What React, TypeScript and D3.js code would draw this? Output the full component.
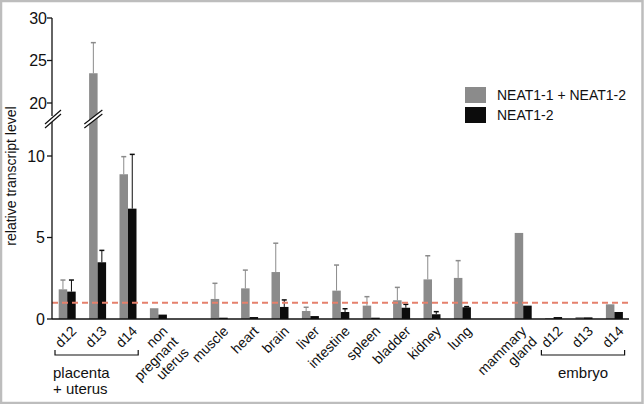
import * as d3 from "d3";

// slot order along the x axis; empty slots are the gaps between groups
const labels: string[][] = [
  ["d12"], ["d13"], ["d14"], ["non", "pregnant", "uterus"], [],
  ["muscle"], ["heart"], ["brain"], ["liver"], ["intestine"], ["spleen"],
  ["bladder"], ["kidney"], ["lung"], [], ["mammary", "gland"],
  ["d12"], ["d13"], ["d14"],
];

// NEAT1-1 + NEAT1-2 (grey)
const totalLevel = [1.82, 23.5, 8.88, 0.66, null, 1.23, 1.88, 2.88, 0.49, 1.74, 0.82, 1.15, 2.43, 2.52, null, 5.28, 0.06, 0.12, 0.9];
const totalErr = [2.39, 27.1, 9.96, null, null, 2.19, 3.0, 4.65, 0.72, 3.31, 1.37, 1.94, 3.88, 3.58, null, null, null, null, null];
// NEAT1-2 (black)
const neat2Level = [1.68, 3.48, 6.77, 0.27, null, 0.08, 0.12, 0.74, 0.18, 0.43, 0.08, 0.69, 0.29, 0.72, null, 0.82, 0.12, 0.1, 0.43];
const neat2Err = [2.39, 4.21, 10.1, null, null, null, null, 1.17, null, 0.63, null, 0.9, 0.45, 0.76, null, null, null, null, null];

const lowTicks = [0, 5, 10];
const highTicks = [20, 25, 30];
const seriesNames = ["NEAT1-1 + NEAT1-2", "NEAT1-2"];
const groups = [
  { name: ["placenta", "+ uterus"], from: 0, to: 2, align: "start" },
  { name: ["embryo"], from: 16, to: 18, align: "middle" },
];

const GREY = "#8b8b8b";
const BLACK = "#0c0c0c";
const FONT = "'Liberation Sans', Arial, sans-serif";

export default function App() {
  const W = 644, H = 404;
  const axisX = 52;
  const BRK = 15; // values above this use the upper scale

  const x = d3.scaleBand<number>()
    .domain(d3.range(labels.length))
    .range([axisX, 629.6])
    .paddingInner(0)
    .paddingOuter(0);
  const sub = d3.scaleBand<number>().domain([0, 1]).range([0, 17]).padding(0);
  const half = (x.bandwidth() - 17) / 2;

  const yLo = d3.scaleLinear().domain([0, 10]).range([319, 156]);
  const yHi = d3.scaleLinear().domain([20, 30]).range([103, 18]);
  const y = (v: number) => (v <= BRK ? yLo(v) : yHi(v));

  const brkY = 119; // centre of break marks
  const slash = (cx: number, off: number, w: number) =>
    `M${cx - w},${brkY + off + 7}L${cx + w},${brkY + off - 7}`;

  const series = [
    { vals: totalLevel, errs: totalErr, color: GREY },
    { vals: neat2Level, errs: neat2Err, color: BLACK },
  ];

  return (
    <svg width={W} height={H} style={{ display: "block", fontFamily: FONT }}>
      <style>{"body{margin:0}"}</style>
      <rect x={0} y={0} width={W} height={H} fill="#fff" />

      {/* bars */}
      {series.map((s, si) =>
        s.vals.map((v, i) =>
          v == null ? null : (
            <rect
              key={`b${si}-${i}`}
              x={(x(i) as number) + half + (sub(si) as number)}
              y={y(v)}
              width={sub.bandwidth()}
              height={yLo(0) - y(v)}
              fill={s.color}
            />
          )
        )
      )}

      {/* error bars (upper whisker only) */}
      {series.map((s, si) =>
        s.errs.map((e, i) => {
          const v = s.vals[i];
          if (e == null || v == null) return null;
          const cx = (x(i) as number) + half + (sub(si) as number) + sub.bandwidth() / 2;
          return (
            <g key={`e${si}-${i}`} stroke={s.color} strokeWidth={1}>
              <line x1={cx} x2={cx} y1={y(v)} y2={y(e)} />
              <line x1={cx - 2.5} x2={cx + 2.5} y1={y(e)} y2={y(e)} strokeWidth={1.5} />
            </g>
          );
        })
      )}

      {/* break on the tall bar */}
      {(() => {
        const i = totalLevel.findIndex((v) => v != null && v > BRK);
        const cx = (x(i) as number) + half + sub.bandwidth() / 2;
        return (
          <g>
            <path
              d={`M${cx - 9},${brkY + 7 - 2}L${cx + 9},${brkY - 7 - 2}L${cx + 9},${brkY - 7 + 2}L${cx - 9},${brkY + 7 + 2}Z`}
              fill="#fff"
            />
            <path d={slash(cx, -2, 9) + slash(cx, 2, 9)} stroke="#111" strokeWidth={1.2} fill="none" />
          </g>
        );
      })()}

      {/* reference line at 1 */}
      <line
        x1={axisX}
        x2={629}
        y1={yLo(1)}
        y2={yLo(1)}
        stroke="#e5806c"
        strokeWidth={2}
        strokeDasharray="6,4"
      />

      {/* y axis */}
      <g stroke="#111" strokeWidth={1.3} fill="none">
        <line x1={axisX} x2={axisX} y1={yLo(0)} y2={brkY + 3} />
        <line x1={axisX} x2={axisX} y1={yHi(30)} y2={brkY - 3} />
        <path d={slash(axisX + 1, -2, 8) + slash(axisX + 1, 2, 8)} strokeWidth={1.2} />
        {lowTicks.map((t) => (
          <line key={`tl${t}`} x1={axisX - 5} x2={axisX} y1={yLo(t)} y2={yLo(t)} />
        ))}
        {highTicks.map((t) => (
          <line key={`th${t}`} x1={axisX - 5} x2={axisX} y1={yHi(t)} y2={yHi(t)} />
        ))}
        <line x1={axisX} x2={629} y1={yLo(0)} y2={yLo(0)} />
      </g>
      <g fontSize={16} textAnchor="end" fill="#111">
        {lowTicks.map((t) => (
          <text key={`ll${t}`} x={axisX - 7} y={yLo(t)} dy="0.35em">{t}</text>
        ))}
        {highTicks.map((t) => (
          <text key={`lh${t}`} x={axisX - 5} y={yHi(t)} dy="0.35em">{t}</text>
        ))}
      </g>
      <text
        transform={`translate(16,${176}) rotate(-90)`}
        textAnchor="middle"
        fontSize={14}
        fill="#111"
      >
        relative transcript level
      </text>

      {/* x labels, rotated 45 degrees, lines right-aligned */}
      {labels.map((ls, i) => {
        if (ls.length === 0) return null;
        const tx = (x(i) as number) + x.bandwidth() / 2 + (ls.length === 2 ? 4 : 10);
        return (
          <g key={`xl${i}`} transform={`translate(${tx},332) rotate(-45)`}>
            {ls.map((l, j) => (
              <text key={j} x={0} y={j * 15} fontSize={14} fill="#111" textAnchor="end">
                {l}
              </text>
            ))}
          </g>
        );
      })}

      {/* group brackets */}
      {groups.map((g, gi) => {
        const x0 = (x(g.from) as number) + 3;
        const x1 = (x(g.to) as number) + x.bandwidth() - 5;
        const by = 355;
        const tx = g.align === "start" ? x0 - 2 : (x0 + x1) / 2;
        return (
          <g key={`g${gi}`}>
            <path d={`M${x0},${by - 5}V${by}H${x1}V${by - 5}`} stroke="#111" strokeWidth={1.2} fill="none" />
            {g.name.map((n, j) => (
              <text key={j} x={tx} y={378 + j * 16} fontSize={15} fill="#111" textAnchor={g.align}>
                {n}
              </text>
            ))}
          </g>
        );
      })}

      {/* legend */}
      {seriesNames.map((n, i) => (
        <g key={`lg${i}`} transform={`translate(465,${87 + i * 20})`}>
          <rect width={21} height={16} fill={i === 0 ? GREY : BLACK} />
          <text x={32} y={13} fontSize={14} fill="#111">{n}</text>
        </g>
      ))}

      <rect x={1} y={1} width={W - 2.5} height={H - 2} fill="none" stroke="#bdbdbd" strokeWidth={2.5} />
    </svg>
  );
}
